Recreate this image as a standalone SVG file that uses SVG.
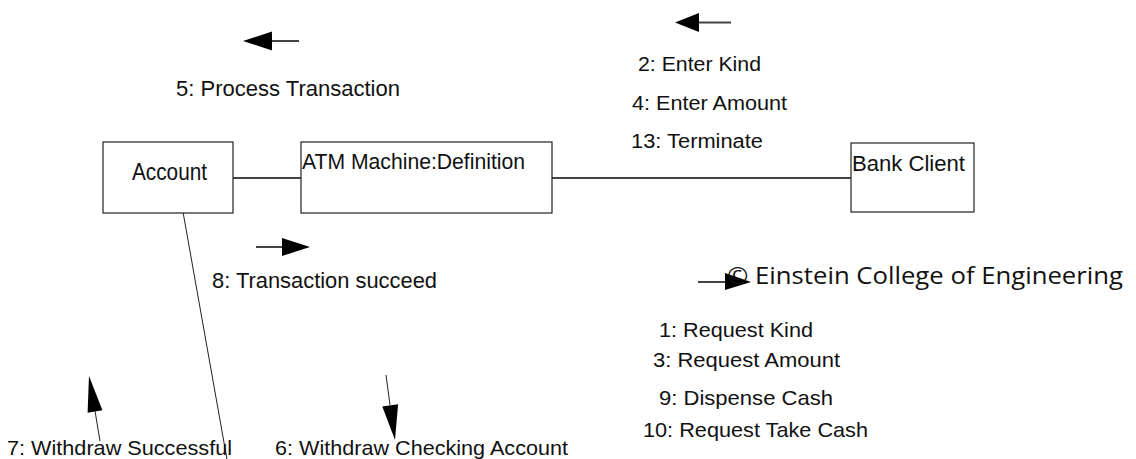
<svg xmlns="http://www.w3.org/2000/svg" width="1136" height="459" viewBox="0 0 1136 459">
<style>
.box{fill:#fff;stroke:#222;stroke-width:1.2}
.lbl{font-family:"Liberation Sans",Arial,sans-serif;fill:#111}
.link{stroke:#444;stroke-width:2.2;fill:none}
.thin{stroke:#222;stroke-width:1;fill:none}
.shaft{stroke:#444;stroke-width:2;fill:none}
.head{fill:#000;stroke:none}
.copy{font-family:"Open Sans","Liberation Sans",sans-serif;fill:#111}
</style>
<rect width="1136" height="459" fill="#fff"/>
<g id="connectors">
  <line class="link" x1="233" y1="178" x2="301" y2="178"/>
  <line class="link" x1="552" y1="178" x2="852" y2="178"/>
  <line class="thin" x1="183" y1="212" x2="228" y2="465"/>
</g>
<g id="node-account">
  <rect class="box" x="103" y="142" width="130" height="71"/>
  <text class="lbl" x="132" y="180" font-size="24" textLength="75" lengthAdjust="spacingAndGlyphs">Account</text>
</g>
<g id="node-atm">
  <rect class="box" x="301" y="142" width="251" height="71"/>
  <text class="lbl" x="302" y="169" font-size="22" textLength="223" lengthAdjust="spacingAndGlyphs">ATM Machine:Definition</text>
</g>
<g id="node-bankclient">
  <rect class="box" x="851" y="143" width="123" height="69"/>
  <text class="lbl" x="852" y="171" font-size="22" textLength="113" lengthAdjust="spacingAndGlyphs">Bank Client</text>
</g>
<g id="messages">
  <line class="shaft" x1="272" y1="41" x2="299" y2="41"/>
  <polygon class="head" points="243,41 272,31.5 272,50.5"/>
  <text class="lbl" x="176" y="96" font-size="22" textLength="224" lengthAdjust="spacingAndGlyphs">5: Process Transaction</text>

  <line class="shaft" x1="699" y1="22.5" x2="731" y2="22.5"/>
  <polygon class="head" points="675,22.5 699,13 699,32"/>
  <text class="lbl" x="638" y="71" font-size="20" textLength="123" lengthAdjust="spacingAndGlyphs">2: Enter Kind</text>
  <text class="lbl" x="632" y="110" font-size="20" textLength="155" lengthAdjust="spacingAndGlyphs">4: Enter Amount</text>
  <text class="lbl" x="631" y="148" font-size="20" textLength="132" lengthAdjust="spacingAndGlyphs">13: Terminate</text>

  <line class="shaft" x1="256" y1="247" x2="282" y2="247"/>
  <polygon class="head" points="310,247 282,238 282,256"/>
  <text class="lbl" x="212" y="288" font-size="22" textLength="225" lengthAdjust="spacingAndGlyphs">8: Transaction succeed</text>

  <line class="shaft" x1="698" y1="282" x2="725" y2="282"/>
  <polygon class="head" points="751,282 725,273 725,290"/>

  <text class="lbl" x="659" y="337" font-size="21" textLength="154" lengthAdjust="spacingAndGlyphs">1: Request Kind</text>
  <text class="lbl" x="653" y="367" font-size="21" textLength="187" lengthAdjust="spacingAndGlyphs">3: Request Amount</text>
  <text class="lbl" x="659" y="405" font-size="21" textLength="174" lengthAdjust="spacingAndGlyphs">9: Dispense Cash</text>
  <text class="lbl" x="643" y="437" font-size="21" textLength="225" lengthAdjust="spacingAndGlyphs">10: Request Take Cash</text>

  <line class="thin" x1="100" y1="441" x2="95" y2="411"/>
  <polygon class="head" points="89,376 102.4,410.3 87.6,412.8"/>
  <text class="lbl" x="7" y="455" font-size="21" textLength="225" lengthAdjust="spacingAndGlyphs">7: Withdraw Successful</text>

  <line class="thin" x1="386" y1="375" x2="390" y2="405"/>
  <polygon class="head" points="395,440 398.1,404.2 382.3,406.4"/>
  <text class="lbl" x="275" y="455" font-size="21" textLength="293" lengthAdjust="spacingAndGlyphs">6: Withdraw Checking Account</text>
</g>
<text class="copy" x="727" y="284" font-size="24" textLength="396" lengthAdjust="spacingAndGlyphs">© Einstein College of Engineering</text>
</svg>
